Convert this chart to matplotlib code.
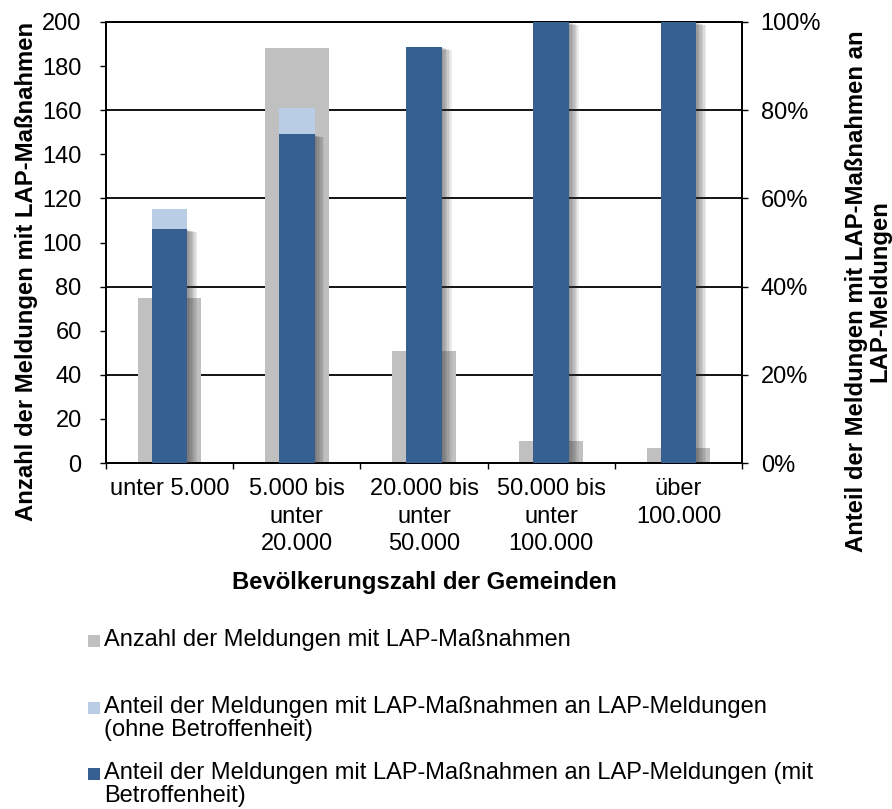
import matplotlib
matplotlib.use("Agg")
import matplotlib.pyplot as plt
import matplotlib.patheffects as pe
from matplotlib.patches import Rectangle
import numpy as np

plt.rcParams['font.family'] = ['Liberation Sans', 'DejaVu Sans']

categories = ["unter 5.000", "5.000 bis\nunter\n20.000", "20.000 bis\nunter\n50.000",
              "50.000 bis\nunter\n100.000", "über\n100.000"]
anzahl = [75, 188, 51, 10, 7]
anteil_ohne = [0.576, 0.805, 0.943, 1.0, 1.0]
anteil_mit = [0.53, 0.745, 0.943, 1.0, 1.0]

legend_labels = ["Anzahl der Meldungen mit LAP-Maßnahmen",
                 "Anteil der Meldungen mit LAP-Maßnahmen an LAP-Meldungen\n(ohne Betroffenheit)",
                 "Anteil der Meldungen mit LAP-Maßnahmen an LAP-Meldungen (mit\nBetroffenheit)"]
right_title = ["Anteil der Meldungen mit LAP-Maßnahmen an", "LAP-Meldungen"]

c_gray = "#C0C0C0"
c_light = "#B9CDE5"
c_dark = "#366092"
fs_tick = 17
fs_title = 17.2
fs_leg = 17

W, H = 892, 809
fig = plt.figure(figsize=(W/100, H/100), dpi=100)
ax = fig.add_axes([106/W, 1-463/H, (742-106)/W, (463-22)/H])
x = np.arange(len(categories))

for v in range(0, 201, 40):
    ax.axhline(v, color="black", lw=1.3, zorder=0)
ax.bar(x, anzahl, width=0.5, color=c_gray, zorder=2)
ax.set_ylim(0, 200)
ax.set_xlim(-0.5, len(categories)-0.5)
ax.set_yticks(range(0, 201, 20))
ax.tick_params(axis='y', direction='out', length=4.5, labelsize=fs_tick, width=1, pad=13)
ax.set_xticks(x)
ax.set_xticklabels(categories, fontsize=fs_tick, linespacing=1.32)
ax.tick_params(axis='x', length=0, pad=11)
ax.set_xticks(np.arange(-0.5, len(categories), 1), minor=True)
ax.tick_params(axis='x', which='minor', direction='out', length=4.5, width=1)
for s in ax.spines.values():
    s.set_color("black")
    s.set_linewidth(1.3)

ax2 = ax.twinx()
ax2.set_ylim(0, 1)
shadow = [pe.SimplePatchShadow(offset=(k, -0.3*k), shadow_rgbFace=(0.2, 0.2, 0.2), alpha=0.09)
          for k in np.linspace(1, 7, 7)] + [pe.Normal()]
ax2.bar(x, anteil_ohne, width=0.28, color=c_light, zorder=2)
bars = ax2.bar(x, anteil_mit, width=0.28, color=c_dark, zorder=3)
for b in bars:
    b.set_path_effects(shadow)
ax2.set_yticks(np.arange(0, 1.01, 0.2))
ax2.set_yticklabels([f"{int(round(v*100))}%" for v in np.arange(0, 1.01, 0.2)])
ax2.tick_params(axis='y', direction='out', length=4.5, labelsize=fs_tick, width=1, pad=9)
for s in ax2.spines.values():
    s.set_color("black")
    s.set_linewidth(1.3)

fig.text(424/W, 1-589/H, "Bevölkerungszahl der Gemeinden", fontsize=fs_title,
         fontweight='bold', ha='center', va='baseline')
fig.text(33/W, 1-22/H, "Anzahl der Meldungen mit LAP-Maßnahmen", rotation=90,
         rotation_mode='anchor', fontsize=fs_title, fontweight='bold', ha='right', va='baseline')
for line, xb in zip(right_title, [863, 886]):
    fig.text(xb/W, 1-291/H, line, rotation=90, rotation_mode='anchor', fontsize=fs_title,
             fontweight='bold', ha='center', va='baseline')

leg_colors = [c_gray, c_light, c_dark]
leg_y = [641, 708, 774]
for lab, col, yy in zip(legend_labels, leg_colors, leg_y):
    fig.patches.append(Rectangle((88/W, 1-(yy+6)/H), 12/W, 12/H, transform=fig.transFigure,
                                 facecolor=col, edgecolor='none'))
    fig.text(104/W, 1-(yy-12)/H, lab, fontsize=fs_leg, ha='left', va='top', linespacing=1.05)

fig.savefig("out.png", dpi=100)
